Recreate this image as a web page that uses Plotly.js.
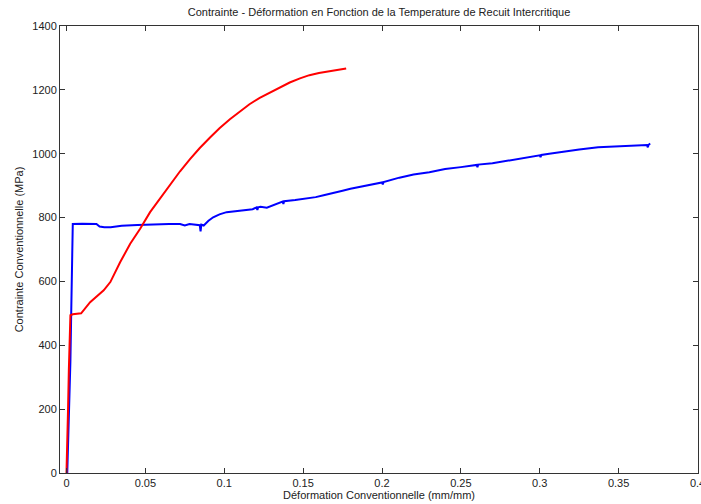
<!DOCTYPE html>
<html>
<head>
<meta charset="utf-8">
<script src="https://cdn.plot.ly/plotly-3.0.1.min.js"></script>
<style>html,body{margin:0;padding:0;background:#fff;}#chart{width:701px;height:504px;}</style>
</head>
<body>
<div id="chart"></div>
<script>
// Blue specimen
const blueStrain = [0.0005,0.0015,0.0025,0.003,0.0035,0.0038,0.004,0.010,0.019,0.021,0.024,0.028,0.035,0.045,0.055,0.065,0.072,0.075,0.078,0.082,0.0845,0.085,0.0855,0.087,0.09,0.093,0.097,0.1015,0.108,0.114,0.118,0.1205,0.121,0.1215,0.123,0.127,0.132,0.137,0.1375,0.138,0.145,0.152,0.158,0.163,0.169,0.175,0.18,0.19,0.2,0.2005,0.201,0.211,0.22,0.23,0.24,0.25,0.26,0.2605,0.261,0.27,0.28,0.29,0.3,0.3005,0.301,0.306,0.315,0.325,0.337,0.345,0.355,0.362,0.368,0.3685,0.369,0.37];
const blueStress = [0,150,350,500,650,760,780,781,780,772,770,770,774,777,779,780,780,775,780,778,776,757,778,775,790,801,810,817,821,824,826,832,824,832,834,831,840,850,843,851,855,860,864,870,878,884,890,900,910,904,911,925,935,942,952,958,965,958,966,970,978,987,995,989,996,1000,1007,1013,1020,1022,1024,1026,1027,1020,1028,1032];
// Red specimen
const redStrain = [0,0.0005,0.001,0.0015,0.002,0.0025,0.004,0.0093,0.015,0.0236,0.0278,0.034,0.0404,0.0467,0.053,0.0595,0.0657,0.072,0.0783,0.0845,0.091,0.097,0.1036,0.11,0.116,0.1225,0.129,0.135,0.1415,0.148,0.154,0.16,0.1668,0.172,0.1773];
const redStress = [0,80,200,320,420,494,497,500,535,572,598,660,718,765,817,862,905,945,983,1018,1051,1080,1108,1133,1155,1175,1192,1208,1223,1236,1246,1253,1259,1263,1267];

const xTicks = [0,0.05,0.1,0.15,0.2,0.25,0.3,0.35,0.4];
const xTickText = ['0','0.05','0.1','0.15','0.2','0.25','0.3','0.35','0.4'];
const yTicks = [0,200,400,600,800,1000,1200,1400];

const fontFam = '"Liberation Sans", Arial, Helvetica, sans-serif';

const traces = [
  {x: blueStrain, y: blueStress, type: 'scatter', mode: 'lines', line: {color: '#0000ff', width: 2}, hoverinfo: 'skip'},
  {x: redStrain, y: redStress, type: 'scatter', mode: 'lines', line: {color: '#ff0000', width: 2}, hoverinfo: 'skip'}
];

const axisCommon = {
  showgrid: false, zeroline: false, showline: true, linecolor: '#333', linewidth: 1,
  mirror: 'ticks', ticks: 'inside', ticklen: 5, tickcolor: '#333',
  ticklabeloverflow: 'allow',
  tickfont: {family: fontFam, size: 11, color: '#222'}
};

const layout = {
  width: 701, height: 504,
  margin: {l: 60, r: 3, t: 26, b: 31},
  paper_bgcolor: '#fff', plot_bgcolor: '#fff',
  showlegend: false,
  font: {family: fontFam, size: 11, color: '#222'},
  title: {text: 'Contrainte - Déformation en Fonction de la Temperature de Recuit Intercritique',
          font: {family: fontFam, size: 11, color: '#222'}, x: 0.5, xref: 'paper', y: 0.975, yanchor: 'middle'},
  xaxis: Object.assign({}, axisCommon, {
    range: [-0.0041, 0.4003], tickvals: xTicks, ticktext: xTickText,
    title: {text: 'Déformation Conventionnelle (mm/mm)', font: {family: fontFam, size: 11, color: '#222'}, standoff: 2}
  }),
  yaxis: Object.assign({}, axisCommon, {
    range: [0, 1400], tickvals: yTicks,
    title: {text: 'Contrainte Conventionnelle (MPa)', font: {family: fontFam, size: 11, color: '#222'}, standoff: 6}
  })
};

Plotly.newPlot('chart', traces, layout, {staticPlot: true, displayModeBar: false});
</script>
</body>
</html>
